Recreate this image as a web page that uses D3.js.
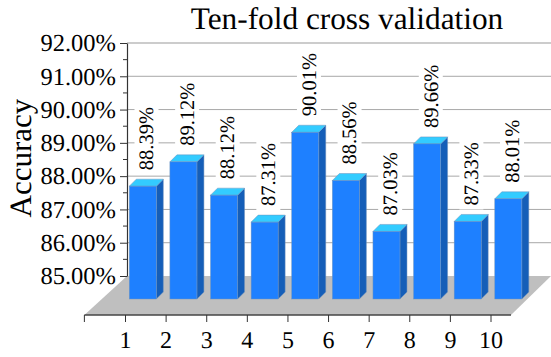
<!DOCTYPE html>
<html>
<head>
<meta charset="utf-8">
<style>
  html, body { margin: 0; padding: 0; background: #fff; }
  svg { display: block; }
  text { font-family: "Liberation Serif", serif; fill: #000; text-rendering: geometricPrecision; }
</style>
<script src="https://cdn.jsdelivr.net/npm/d3@7"></script>
</head>
<body>
<svg></svg>
<script>
const folds = ["1", "2", "3", "4", "5", "6", "7", "8", "9", "10"];
const accuracy = [88.39, 89.12, 88.12, 87.31, 90.01, 88.56, 87.03, 89.66, 87.33, 88.01];
const yTicks = [85, 86, 87, 88, 89, 90, 91, 92];
const yMinorTicks = [85.5, 86.5, 87.5, 88.5, 89.5, 90.5, 91.5];

const svg = d3.select("svg").attr("width", 551).attr("height", 357);

const x = d3.scalePoint().domain(folds).range([125, 490.5]);
const y = d3.scaleLinear().domain([85, 92]).range([276, 43]);

const step = x.step();
const floorY = 315;
const barW = 27, depth = 7, barDrop = 23;
const edge = "#6f93bd";

// back wall grid
svg.append("g")
  .selectAll("line")
  .data(yTicks.slice(1))
  .join("line")
  .attr("x1", 127).attr("x2", 551)
  .attr("y1", d => y(d)).attr("y2", d => y(d))
  .attr("stroke", d => d === 92 ? "#cccccc" : "#a8a8a8")
  .attr("stroke-width", d => d === 92 ? 2 : 1);

// floor
svg.append("path")
  .attr("d", d3.line()([[127, y(85)], [551, y(85)], [511, floorY], [x("1") - step, floorY]]) + "Z")
  .attr("fill", "#bfbfbf");

// y axis
svg.append("g")
  .attr("transform", "translate(127,0)")
  .call(d3.axisLeft(y).tickValues(yTicks).tickFormat(d => d3.format(".2f")(d) + "%").tickSize(7).tickSizeOuter(0))
  .call(g => g.select(".domain").attr("stroke", "#333").attr("stroke-width", 1.2))
  .call(g => g.selectAll(".tick line").attr("stroke", "#333"))
  .call(g => g.selectAll("text").attr("font-size", 24.5).attr("font-family", "Liberation Serif").attr("x", -11).attr("fill", "#000"));

svg.append("g")
  .selectAll("line")
  .data(yMinorTicks)
  .join("line")
  .attr("x1", 123).attr("x2", 127)
  .attr("y1", d => y(d)).attr("y2", d => y(d))
  .attr("stroke", "#333");

// x axis along the front of the floor
svg.append("line")
  .attr("x1", x("1") - step).attr("x2", 511)
  .attr("y1", floorY).attr("y2", floorY)
  .attr("stroke", "#444").attr("stroke-width", 1.5);

svg.append("g")
  .attr("transform", "translate(0," + floorY + ")")
  .call(d3.axisBottom(x).tickSize(7).tickPadding(9).tickSizeOuter(0))
  .call(g => g.select(".domain").remove())
  .call(g => g.selectAll(".tick line").attr("stroke", "#333"))
  .call(g => g.selectAll("text").attr("font-size", 24).attr("font-family", "Liberation Serif").attr("fill", "#000"));

svg.append("line")
  .attr("x1", x("1") - step).attr("x2", x("1") - step)
  .attr("y1", floorY).attr("y2", floorY + 7)
  .attr("stroke", "#333");

// bars
const bars = svg.append("g")
  .selectAll("g")
  .data(folds.map((f, i) => ({ fold: f, value: accuracy[i] })))
  .join("g")
  .attr("transform", d => "translate(" + (x(d.fold) + 4.3) + "," + barDrop + ")");

bars.append("path")
  .attr("d", d => {
    const t = y(d.value), b = y(85);
    return d3.line()([[barW, t], [barW + depth, t - depth], [barW + depth, b - depth], [barW, b]]) + "Z";
  })
  .attr("fill", "#155eb8")
  .attr("stroke", edge).attr("stroke-width", 0.5);

bars.append("path")
  .attr("d", d => {
    const t = y(d.value);
    return d3.line()([[0, t], [depth, t - depth], [barW + depth, t - depth], [barW, t]]) + "Z";
  })
  .attr("fill", "#33ccff")
  .attr("stroke", edge).attr("stroke-width", 0.5);

bars.append("rect")
  .attr("x", 0)
  .attr("y", d => y(d.value))
  .attr("width", barW)
  .attr("height", d => y(85) - y(d.value))
  .attr("fill", "#1e80ff")
  .attr("stroke", edge).attr("stroke-width", 0.5);

// value labels, white box breaks the grid lines behind them
const labels = svg.append("g")
  .selectAll("g")
  .data(folds.map((f, i) => ({ fold: f, value: accuracy[i] })))
  .join("g")
  .attr("transform", d => "translate(" + (x(d.fold) + 21.5) + "," + (y(d.value) + barDrop - 16) + ") rotate(-90)");

labels.append("rect")
  .attr("x", -4).attr("y", -12)
  .attr("width", 70).attr("height", 24)
  .attr("fill", "#fff");

labels.append("text")
  .attr("font-size", 20.5)
  .attr("dy", "0.33em")
  .text(d => d.value.toFixed(2) + "%");

svg.append("text")
  .attr("x", 347).attr("y", 29)
  .attr("text-anchor", "middle")
  .attr("font-size", 31.3)
  .text("Ten-fold cross validation");

svg.append("text")
  .attr("transform", "translate(31,158) rotate(-90)")
  .attr("text-anchor", "middle")
  .attr("font-size", 31)
  .text("Accuracy");
</script>
</body>
</html>
